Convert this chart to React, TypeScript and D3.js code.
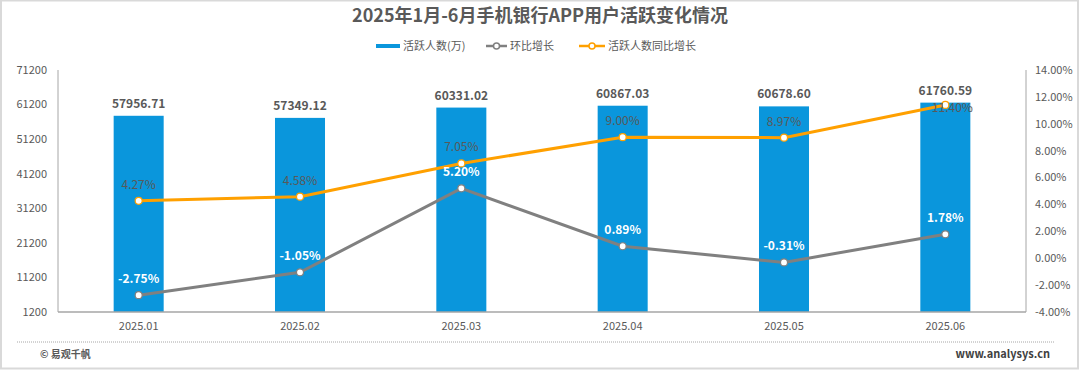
import { useEffect, useRef } from 'react'
import * as d3 from 'd3'

const months = ['2025.01', '2025.02', '2025.03', '2025.04', '2025.05', '2025.06']
const activeUsers = [57956.71, 57349.12, 60331.02, 60867.03, 60678.6, 61760.59]
const momGrowth = [-2.75, -1.05, 5.2, 0.89, -0.31, 1.78]
const yoyGrowth = [4.27, 4.58, 7.05, 9.0, 8.97, 11.4]
const leftTicks = [1200, 11200, 21200, 31200, 41200, 51200, 61200, 71200]
const rightTicks = [-4, -2, 0, 2, 4, 6, 8, 10, 12, 14]

const BLUE = '#0A96DC'
const GRAY = '#808080'
const ORANGE = '#FFA000'
const TEXT = '#595959'
const FONT = '"Noto Sans CJK SC", "Noto Sans", sans-serif'

export default function App() {
  const svgRef = useRef<SVGSVGElement>(null)

  useEffect(() => {
    const W = 1080
    const H = 370
    const left = 58
    const right = 1026
    const top = 70
    const bottom = 312

    const svg = d3.select(svgRef.current)
    svg.selectAll('*').remove()
    svg.attr('width', W).attr('height', H).style('font-family', FONT)

    // frame
    svg.append('rect')
      .attr('x', 1).attr('y', 0.5).attr('width', W - 3).attr('height', H - 2)
      .attr('fill', '#fff').attr('stroke', '#d9d9d9').attr('stroke-width', 2)

    const x = d3.scaleBand().domain(months).range([left, right]).paddingInner(0.69).paddingOuter(0.345)
    const xc = (m: string) => (x(m) as number) + x.bandwidth() / 2
    const yL = d3.scaleLinear().domain([1200, 71200]).range([bottom, top])
    const yR = d3.scaleLinear().domain([-4, 14]).range([bottom, top])

    // title
    svg.append('text')
      .attr('x', W / 2).attr('y', 22)
      .attr('text-anchor', 'middle')
      .attr('fill', TEXT).attr('font-size', '18px').attr('font-weight', 'bold')
      .text('2025年1月-6月手机银行APP用户活跃变化情况')

    // legend
    const lg = svg.append('g').attr('font-size', '11px').attr('fill', TEXT)
    lg.append('rect').attr('x', 376).attr('y', 44).attr('width', 24).attr('height', 4).attr('fill', BLUE)
    lg.append('text').attr('x', 403).attr('y', 50).attr('fill', TEXT).text('活跃人数(万)')
    const lineItem = (x0: number, len: number, color: string, label: string) => {
      lg.append('line').attr('x1', x0).attr('x2', x0 + len).attr('y1', 46).attr('y2', 46)
        .attr('stroke', color).attr('stroke-width', 2.5)
      lg.append('circle').attr('cx', x0 + len / 2).attr('cy', 46).attr('r', 3)
        .attr('fill', '#fff').attr('stroke', color).attr('stroke-width', 1.5)
      lg.append('text').attr('x', x0 + len + 3).attr('y', 50).attr('fill', TEXT).text(label)
    }
    lineItem(486, 21, GRAY, '环比增长')
    lineItem(579, 26, ORANGE, '活跃人数同比增长')

    // axes
    svg.append('line').attr('x1', left).attr('x2', left).attr('y1', top).attr('y2', bottom)
      .attr('stroke', '#a6a6a6')
    svg.append('line').attr('x1', right).attr('x2', right).attr('y1', top).attr('y2', bottom)
      .attr('stroke', '#a6a6a6')

    svg.selectAll('.lt').data(leftTicks).join('text')
      .attr('class', 'lt')
      .attr('x', 47).attr('y', d => yL(d)).attr('dy', '0.35em')
      .attr('text-anchor', 'end').attr('fill', TEXT).attr('font-size', '11px')
      .text(d => d)

    svg.selectAll('.rt').data(rightTicks).join('text')
      .attr('class', 'rt')
      .attr('x', 1035).attr('y', d => yR(d)).attr('dy', '0.35em')
      .attr('fill', TEXT).attr('font-size', '11px')
      .text(d => d.toFixed(2) + '%')

    svg.selectAll('.xt').data(months).join('text')
      .attr('class', 'xt')
      .attr('x', d => xc(d)).attr('y', 330)
      .attr('text-anchor', 'middle').attr('fill', TEXT).attr('font-size', '11px')
      .text(d => d)

    // bars
    svg.selectAll('.bar').data(activeUsers).join('rect')
      .attr('class', 'bar')
      .attr('x', (_, i) => x(months[i]) as number)
      .attr('y', d => yL(d))
      .attr('width', x.bandwidth())
      .attr('height', d => bottom - yL(d))
      .attr('fill', BLUE)

    svg.append('line').attr('x1', left).attr('x2', right).attr('y1', bottom).attr('y2', bottom)
      .attr('stroke', '#a6a6a6').attr('stroke-width', 1.5)

    svg.selectAll('.bv').data(activeUsers).join('text')
      .attr('class', 'bv')
      .attr('x', (_, i) => xc(months[i])).attr('y', d => yL(d) - 8)
      .attr('text-anchor', 'middle').attr('fill', TEXT).attr('font-size', '12px').attr('font-weight', 600)
      .text(d => d.toFixed(2))

    const line = d3.line<number>()
      .x((_, i) => xc(months[i]))
      .y(d => yR(d))

    const drawSeries = (vals: number[], color: string, labelColor: string, cls: string) => {
      svg.append('path').datum(vals).attr('d', line)
        .attr('fill', 'none').attr('stroke', color).attr('stroke-width', 3)
      svg.selectAll('.p' + cls).data(vals).join('circle')
        .attr('class', 'p' + cls)
        .attr('cx', (_, i) => xc(months[i])).attr('cy', d => yR(d)).attr('r', 3.5)
        .attr('fill', '#fff').attr('stroke', color).attr('stroke-width', 1.2)
      // the last YoY label sits just below-right of its point, as in the source chart
      const last = (i: number) => cls === 'y' && i === vals.length - 1
      svg.selectAll('.l' + cls).data(vals).join('text')
        .attr('class', 'l' + cls)
        .attr('x', (_, i) => xc(months[i]) + (last(i) ? 7 : 0))
        .attr('y', (d, i) => yR(d) + (last(i) ? 7 : -12))
        .attr('text-anchor', 'middle').attr('fill', labelColor)
        .attr('font-size', '12px').attr('font-weight', cls === 'm' ? 600 : 400)
        .text(d => d.toFixed(2) + '%')
    }
    drawSeries(yoyGrowth, ORANGE, TEXT, 'y')
    drawSeries(momGrowth, GRAY, '#fff', 'm')

    // footer
    svg.append('line').attr('x1', 17).attr('x2', 1055).attr('y1', 342).attr('y2', 342)
      .attr('stroke', '#a6a6a6').attr('stroke-dasharray', '1,1')
    svg.append('text').attr('x', 40).attr('y', 358)
      .attr('fill', TEXT).attr('font-size', '10px').attr('font-weight', 'bold')
      .text('© 易观千帆')
    svg.append('text').attr('x', 1050).attr('y', 358).attr('text-anchor', 'end')
      .attr('fill', '#404040').attr('font-size', '11px').attr('font-weight', 'bold')
      .text('www.analysys.cn')
  }, [])

  return (
    <div style={{ position: 'absolute', left: 0, top: 0 }}>
      <svg ref={svgRef} style={{ display: 'block' }} />
    </div>
  )
}
